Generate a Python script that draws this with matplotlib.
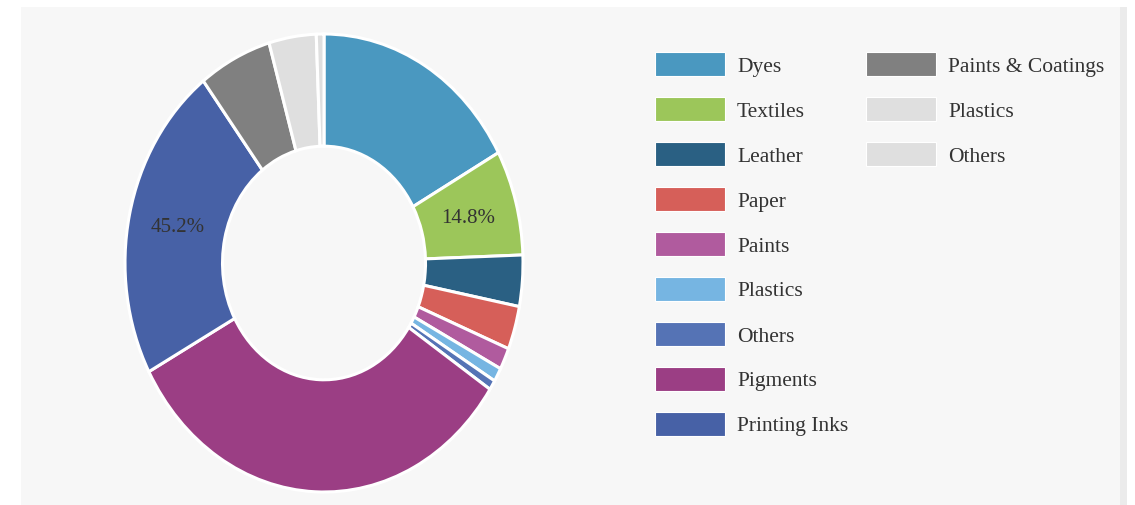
import matplotlib
matplotlib.use('Agg')
import matplotlib.pyplot as plt
from matplotlib.patches import Rectangle
import numpy as np

plt.rcParams['font.family'] = ['Liberation Serif', 'DejaVu Serif']

# slice data (clockwise from 12 o'clock), values in percent of the ring
categories = ['Dyes', 'Textiles', 'Leather', 'Paper', 'Paints', 'Plastics', 'Others',
              'Pigments', 'Printing Inks', 'Paints & Coatings', 'Plastics', 'Others']
values = [17.0, 7.44, 3.61, 3.06, 1.53, 0.97, 0.69, 32.83, 22.5, 5.92, 3.83, 0.62]
colors = ['#4a98c0', '#9cc65a', '#2a6083', '#d65f59', '#b05b9e', '#76b5e2', '#5573b5',
          '#9b3e84', '#4761a6', '#808080', '#dfdfdf', '#dfdfdf']
slice_labels = ['', '14.8%', '', '', '', '', '', '', '45.2%', '', '', '']

W, H = 1135, 506
fig = plt.figure(figsize=(W / 100, H / 100), dpi=100)
fig.patch.set_facecolor('white')

# background panel (pixel coords)
bg = fig.add_axes([0, 0, 1, 1])
bg.set_xlim(0, W)
bg.set_ylim(H, 0)
bg.axis('off')
bg.add_patch(Rectangle((1120, 8), 7, H - 8, facecolor='#ebebeb', edgecolor='none'))
bg.add_patch(Rectangle((21, 8), 1099, H - 8, facecolor='#f7f7f7', edgecolor='none'))

# donut (ellipse-shaped like the reference)
cx, cy, rx, ry = 324, 264, 199, 229
ax = fig.add_axes([(cx - rx) / W, (H - cy - ry) / H, 2 * rx / W, 2 * ry / H])
wedges, _ = ax.pie(values, colors=colors, startangle=90, counterclock=False,
                   wedgeprops=dict(width=0.49, edgecolor='white', linewidth=2.2))
ax.set_aspect('auto')
ax.set_xlim(-1, 1)
ax.set_ylim(-1, 1)
ax.axis('off')

for w, lab in zip(wedges, slice_labels):
    if not lab:
        continue
    mid = np.deg2rad((w.theta1 + w.theta2) / 2)
    ax.text(0.75 * np.cos(mid), 0.75 * np.sin(mid), lab, ha='center', va='center',
            fontsize=15, color='#333333')

# legend, column-major with 9 rows
n_rows = 9
for i, (name, col) in enumerate(zip(categories, colors)):
    c, r = divmod(i, n_rows)
    x0 = 655 + c * 211
    yc = 65 + r * 45
    bg.add_patch(Rectangle((x0, yc - 12), 70, 24, facecolor=col, edgecolor='white', linewidth=0.8))
    bg.text(x0 + 82, yc + 6.5, name, ha='left', va='baseline', fontsize=15.5, color='#333333')

fig.savefig('out.png', dpi=100, facecolor=fig.get_facecolor())
